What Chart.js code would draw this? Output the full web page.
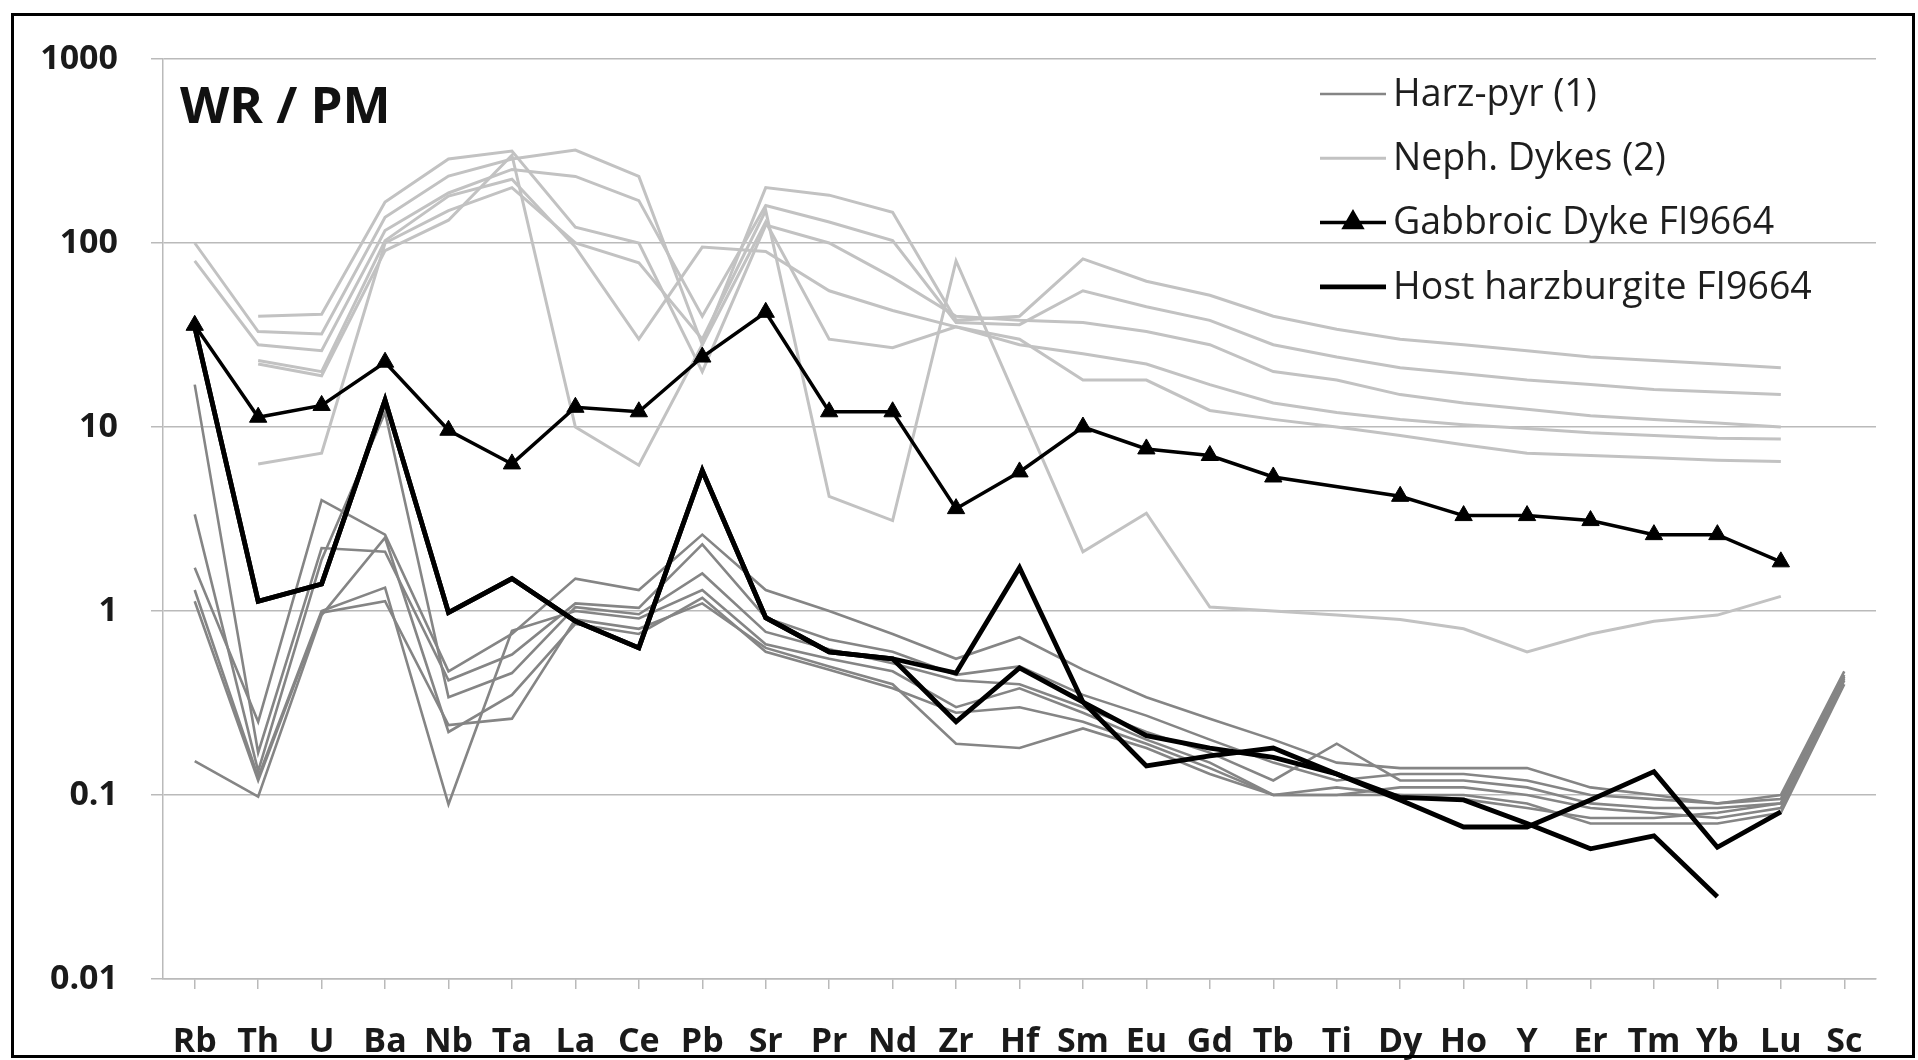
<!DOCTYPE html>
<html>
<head>
<meta charset="utf-8">
<title>WR / PM</title>
<script src="https://cdn.jsdelivr.net/npm/chart.js@4.4.1/dist/chart.umd.min.js"></script>
<style>
  html, body { margin: 0; padding: 0; background: #fff; overflow: hidden; }
  #wrap { position: relative; width: 1918px; height: 1060px; }
</style>
</head>
<body>
<div id="wrap"><canvas id="chart" width="1918" height="1060"></canvas></div>
<script>
// ======================
// 데이터 (값은 그림에서 읽음)
// ======================
const elements = ["Rb","Th","U","Ba","Nb","Ta","La","Ce","Pb","Sr","Pr","Nd","Zr","Hf",
                  "Sm","Eu","Gd","Tb","Ti","Dy","Ho","Y","Er","Tm","Yb","Lu","Sc"];
const yTicks = [0.01, 0.1, 1, 10, 100, 1000];

// Harz-pyr (1)
const harz1 = [1.72, 0.25, 4.0, 2.6, 0.47, 0.75, 1.5, 1.3, 2.6, 1.3, 1.0, 0.75, 0.55, 0.72, 0.48, 0.34, 0.26, 0.2, 0.15, 0.14, 0.14, 0.14, 0.11, 0.1, 0.09, 0.1, 0.47];
const harz2 = [17, 0.17, 2.2, 2.1, 0.42, 0.58, 1.1, 1.04, 2.3, 0.92, 0.7, 0.6, 0.45, 0.5, 0.35, 0.27, 0.2, 0.15, 0.12, 0.13, 0.13, 0.12, 0.1, 0.095, 0.09, 0.095, 0.45];
const harz3 = [3.35, 0.135, 1.9, 12, 0.34, 0.46, 1.05, 0.96, 1.6, 0.77, 0.62, 0.52, 0.42, 0.4, 0.3, 0.22, 0.17, 0.12, 0.19, 0.12, 0.12, 0.11, 0.09, 0.085, 0.085, 0.09, 0.44];
const harz4 = [1.3, 0.125, 1.0, 1.34, 0.089, 0.78, 1.0, 0.91, 1.3, 0.66, 0.55, 0.47, 0.3, 0.38, 0.28, 0.2, 0.15, 0.1, 0.1, 0.11, 0.11, 0.1, 0.085, 0.08, 0.075, 0.085, 0.42];
const harz5 = [1.13, 0.12, 0.98, 1.13, 0.24, 0.26, 0.9, 0.8, 1.1, 0.63, 0.5, 0.4, 0.19, 0.18, 0.23, 0.18, 0.13, 0.1, 0.11, 0.1, 0.1, 0.09, 0.07, 0.07, 0.07, 0.08, 0.4];
const harz6 = [0.153, 0.098, 0.95, 2.5, 0.22, 0.35, 0.85, 0.75, 1.18, 0.6, 0.48, 0.38, 0.28, 0.3, 0.25, 0.19, 0.14, 0.1, 0.1, 0.1, 0.095, 0.085, 0.075, 0.075, 0.08, 0.09, 0.43];

// Neph. Dykes (2)
const neph1 = [100, 33, 32, 138, 231, 286, 320, 230, 28, 200, 182, 147, 38, 40, 82, 62, 52, 40, 34, 30, 28, 26, 24, 23, 22, 21, null];
const neph2 = [80, 28, 26, 117, 187, 251, 230, 170, 40, 160, 130, 103, 37, 36, 55, 45, 38, 28, 24, 21, 19.5, 18, 17, 16, 15.5, 15, null];
const neph3 = [null, 40, 41, 167, 286, 316, 122, 100, 20, 125, 100, 65, 40, 38, 37, 33, 28, 20, 18, 15, 13.5, 12.5, 11.5, 11, 10.5, 10, null];
const neph4 = [null, 23, 20, 103, 180, 222, 95, 30, 95, 90, 55, 43, 35, 28, 25, 22, 17, 13.5, 12, 11, 10.3, 9.8, 9.3, 9, 8.7, 8.6, null];
const neph5 = [null, 22, 19, 91, 133, 300, 10, 6.2, 28, 130, 30, 27, 35, 30, 18, 18, 12.3, 11, 10, 9, 8, 7.2, 7, 6.8, 6.6, 6.5, null];
const neph6 = [null, 6.3, 7.2, 100, 150, 200, 100, 78, 30, 150, 4.2, 3.1, 80, 13, 2.1, 3.4, 1.05, 1.0, 0.95, 0.9, 0.8, 0.6, 0.75, 0.88, 0.95, 1.2, null];

// Gabbroic Dyke FI9664
const gabbro = [35.7, 11.3, 13.1, 22.5, 9.6, 6.3, 12.8, 12.1, 24, 42, 12.1, 12.1, 3.6, 5.7, 10, 7.6, 7.0, 5.35, null, 4.2, 3.3, 3.3, 3.1, 2.6, 2.6, 1.85, null];

// Host harzburgite FI9664 (두 개 분석)
const hostA = [35, 1.13, 1.4, 14, 0.98, 1.5, 0.88, 0.63, 5.8, 0.92, 0.6, 0.55, 0.46, 1.72, 0.32, 0.21, 0.18, 0.16, 0.13, 0.097, 0.094, 0.07, 0.051, 0.06, 0.028, null, null];
const hostB = [35, 1.13, 1.4, 14, 0.98, 1.5, 0.88, 0.63, 5.8, 0.92, 0.6, 0.55, 0.25, 0.49, 0.32, 0.144, 0.163, 0.18, 0.13, 0.094, 0.067, 0.067, 0.094, 0.134, 0.052, 0.081, null];

const groupNames = ["Harz-pyr (1)", "Neph. Dykes (2)", "Gabbroic Dyke FI9664", "Host harzburgite FI9664"];

// ======================
// 스타일
// ======================
const FONT = "'Open Sans', Lato, sans-serif";
const C_HARZ = "#858585";
const C_NEPH = "#c2c2c2";
const C_GRID = "#bababa";

function lineSet(label, data, color, width) {
  return {
    label, data,
    borderColor: color,
    backgroundColor: color,
    borderWidth: width,
    pointRadius: 0,
    tension: 0,
    spanGaps: true
  };
}

// 첫 데이터셋이 맨 위에 그려짐
const datasets = [
  {
    ...lineSet(groupNames[2], gabbro, "#000", 3.5),
    pointStyle: "triangle",
    pointRadius: 10,
    pointBackgroundColor: "#000",
    pointBorderColor: "#000",
    pointBorderWidth: 1
  },
  lineSet(groupNames[3], hostA, "#000", 4.8),
  lineSet(groupNames[3], hostB, "#000", 4.8),
  ...[harz1, harz2, harz3, harz4, harz5, harz6].map(d => lineSet(groupNames[0], d, C_HARZ, 2.6)),
  ...[neph1, neph2, neph3, neph4, neph5, neph6].map(d => lineSet(groupNames[1], d, C_NEPH, 3))
];

// ======================
// 틀, 제목, 범례
// ======================
const decorPlugin = {
  id: "decor",
  afterDraw(chart) {
    const ctx = chart.ctx;
    ctx.save();

    // 바깥 틀
    ctx.strokeStyle = "#000";
    ctx.lineWidth = 3;
    ctx.strokeRect(12.5, 14.5, 1901, 1042);

    // 제목
    ctx.fillStyle = "#111";
    ctx.font = "bold 51px " + FONT;
    ctx.textAlign = "left";
    ctx.textBaseline = "alphabetic";
    ctx.fillText("WR / PM", 180, 123);

    // 범례
    const x0 = 1320, x1 = 1386, tx = 1393;
    ctx.font = "37.5px " + FONT;
    ctx.textBaseline = "middle";
    groupNames.forEach((name, i) => {
      const ds = chart.data.datasets.find(d => d.label === name);
      const y = 94 + i * 64.3;
      ctx.strokeStyle = ds.borderColor;
      ctx.lineWidth = ds.borderWidth;
      ctx.beginPath();
      ctx.moveTo(x0, y);
      ctx.lineTo(x1, y);
      ctx.stroke();
      if (ds.pointStyle) {
        Chart.helpers.drawPoint(ctx, {
          pointStyle: ds.pointStyle, radius: ds.pointRadius, borderWidth: 1, rotation: 0
        }, (x0 + x1) / 2, y);
        ctx.fillStyle = "#000";
        ctx.fill();
      }
      ctx.fillStyle = "#1e1e1e";
      ctx.fillText(name, tx, y + 1);
    });
    ctx.restore();
  }
};

// ======================
// 차트
// ======================
new Chart(document.getElementById("chart"), {
  type: "line",
  data: { labels: elements, datasets },
  plugins: [decorPlugin],
  options: {
    responsive: false,
    animation: false,
    devicePixelRatio: 1,
    layout: { padding: { top: 59, right: 42, left: 0, bottom: 0 } },
    plugins: { legend: { display: false }, tooltip: { enabled: false } },
    scales: {
      x: {
        type: "category",
        offset: true,
        grid: { display: true, drawOnChartArea: false, drawTicks: true, tickLength: 10, color: C_GRID, lineWidth: 1.5 },
        border: { display: true, color: C_GRID, width: 1.5 },
        ticks: { color: "#1a1a1a", font: { family: FONT, size: 34, weight: "bold" }, padding: 33, maxRotation: 0, autoSkip: false },
        afterFit: s => { s.height = 81; }
      },
      y: {
        type: "logarithmic",
        min: 0.01,
        max: 1000,
        grid: { color: C_GRID, lineWidth: 1.5, tickLength: 12 },
        border: { display: true, color: C_GRID, width: 1.5 },
        ticks: {
          color: "#1a1a1a",
          font: { family: FONT, size: 34, weight: "bold" },
          padding: 33,
          callback: v => String(v)
        },
        afterBuildTicks: s => { s.ticks = yTicks.map(v => ({ value: v })); },
        afterFit: s => { s.width = 163; }
      }
    }
  }
});
</script>
</body>
</html>
